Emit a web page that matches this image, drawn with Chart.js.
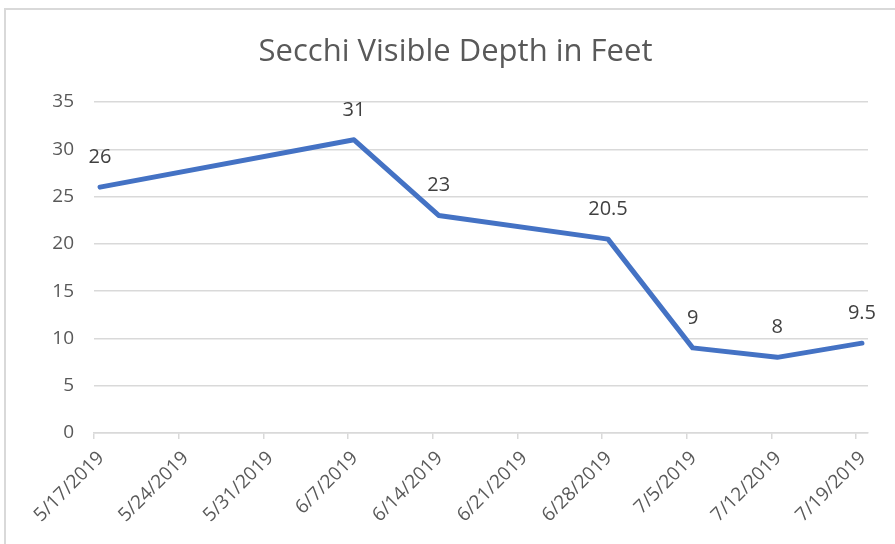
<!DOCTYPE html>
<html>
<head>
<meta charset="utf-8">
<script src="https://cdn.jsdelivr.net/npm/chart.js@4"></script>
<style>
  html, body { margin: 0; padding: 0; background: #ffffff; }
  #wrap { position: relative; width: 895px; height: 544px; overflow: hidden; }
  #frame { position: absolute; left: 4px; top: 8px; width: 900px; height: 600px;
           border-top: 2px solid #d9d9d9; border-left: 2px solid #d9d9d9; box-sizing: border-box; pointer-events: none; }
  canvas { position: absolute; left: 0; top: 0; }
</style>
</head>
<body>
<div id="wrap">
  <canvas id="c" width="895" height="544"></canvas>
  <div id="frame"></div>
</div>
<script>
const chartTitle = 'Secchi Visible Depth in Feet';
const sampleDates = ['5/17/2019', '6/7/2019', '6/14/2019', '6/28/2019', '7/5/2019', '7/12/2019', '7/19/2019'];
const depthFeet = [26, 31, 23, 20.5, 9, 8, 9.5];
const tickLabels = ['5/17/2019', '5/24/2019', '5/31/2019', '6/7/2019', '6/14/2019', '6/21/2019', '6/28/2019', '7/5/2019', '7/12/2019', '7/19/2019'];
const yTicks = [0, 5, 10, 15, 20, 25, 30, 35];

const DAY = 86400000;
function parseDate(s) { const p = s.split('/').map(Number); return Date.UTC(p[2], p[0] - 1, p[1]); }
const origin = parseDate(tickLabels[0]);
const dayOf = s => Math.round((parseDate(s) - origin) / DAY);
const tickDays = tickLabels.map(dayOf);
// Excel date axis: each point sits in the middle of its day
const points = sampleDates.map((d, i) => ({ x: dayOf(d) + 0.5, y: depthFeet[i] }));

const labelPlugin = {
  id: 'pointLabels',
  afterDatasetsDraw(chart) {
    const ctx = chart.ctx;
    const meta = chart.getDatasetMeta(0);
    ctx.save();
    ctx.font = '20px "Open Sans"';
    ctx.fillStyle = '#404040';
    ctx.textAlign = 'center';
    ctx.textBaseline = 'middle';
    meta.data.forEach((el, i) => {
      ctx.fillText(String(depthFeet[i]), el.x, el.y - 30);
    });
    ctx.restore();
  }
};

new Chart(document.getElementById('c'), {
  type: 'line',
  data: {
    datasets: [{
      data: points,
      borderColor: '#4472C4',
      borderWidth: 5,
      borderCapStyle: 'round',
      borderJoinStyle: 'round',
      pointRadius: 0,
      tension: 0,
      fill: false
    }]
  },
  options: {
    responsive: false,
    animation: false,
    layout: { padding: { left: 43, right: 27, top: 0, bottom: 0 } },
    plugins: {
      legend: { display: false },
      tooltip: { enabled: false },
      title: {
        display: true,
        text: chartTitle,
        color: '#595959',
        font: { family: '"Open Sans"', size: 31, weight: 'normal', lineHeight: 1.2 },
        padding: { top: 34, bottom: 30.8 }
      }
    },
    scales: {
      x: {
        type: 'linear',
        min: 0,
        max: tickDays[tickDays.length - 1] + 1,
        afterBuildTicks(scale) { scale.ticks = tickDays.map(v => ({ value: v })); },
        afterFit(scale) { scale.height = 111; },
        grid: { drawOnChartArea: false, drawTicks: true, tickLength: 6, color: '#d9d9d9', lineWidth: 1.5 },
        border: { display: true, color: '#d9d9d9', width: 1.5 },
        ticks: {
          autoSkip: false,
          maxRotation: 45,
          minRotation: 45,
          padding: 8,
          labelOffset: 7,
          color: '#595959',
          font: { family: '"Open Sans"', size: 19 },
          callback: (v, i) => tickLabels[i]
        }
      },
      y: {
        min: 0,
        max: 35,
        afterBuildTicks(scale) { scale.ticks = yTicks.map(v => ({ value: v })); },
        afterFit(scale) { scale.width = 51; },
        grid: { drawTicks: false, color: '#d9d9d9', lineWidth: 1.5 },
        border: { display: false },
        ticks: {
          padding: 20,
          color: '#595959',
          font: { family: '"Open Sans"', size: 19 }
        }
      }
    }
  },
  plugins: [labelPlugin]
});
</script>
</body>
</html>
